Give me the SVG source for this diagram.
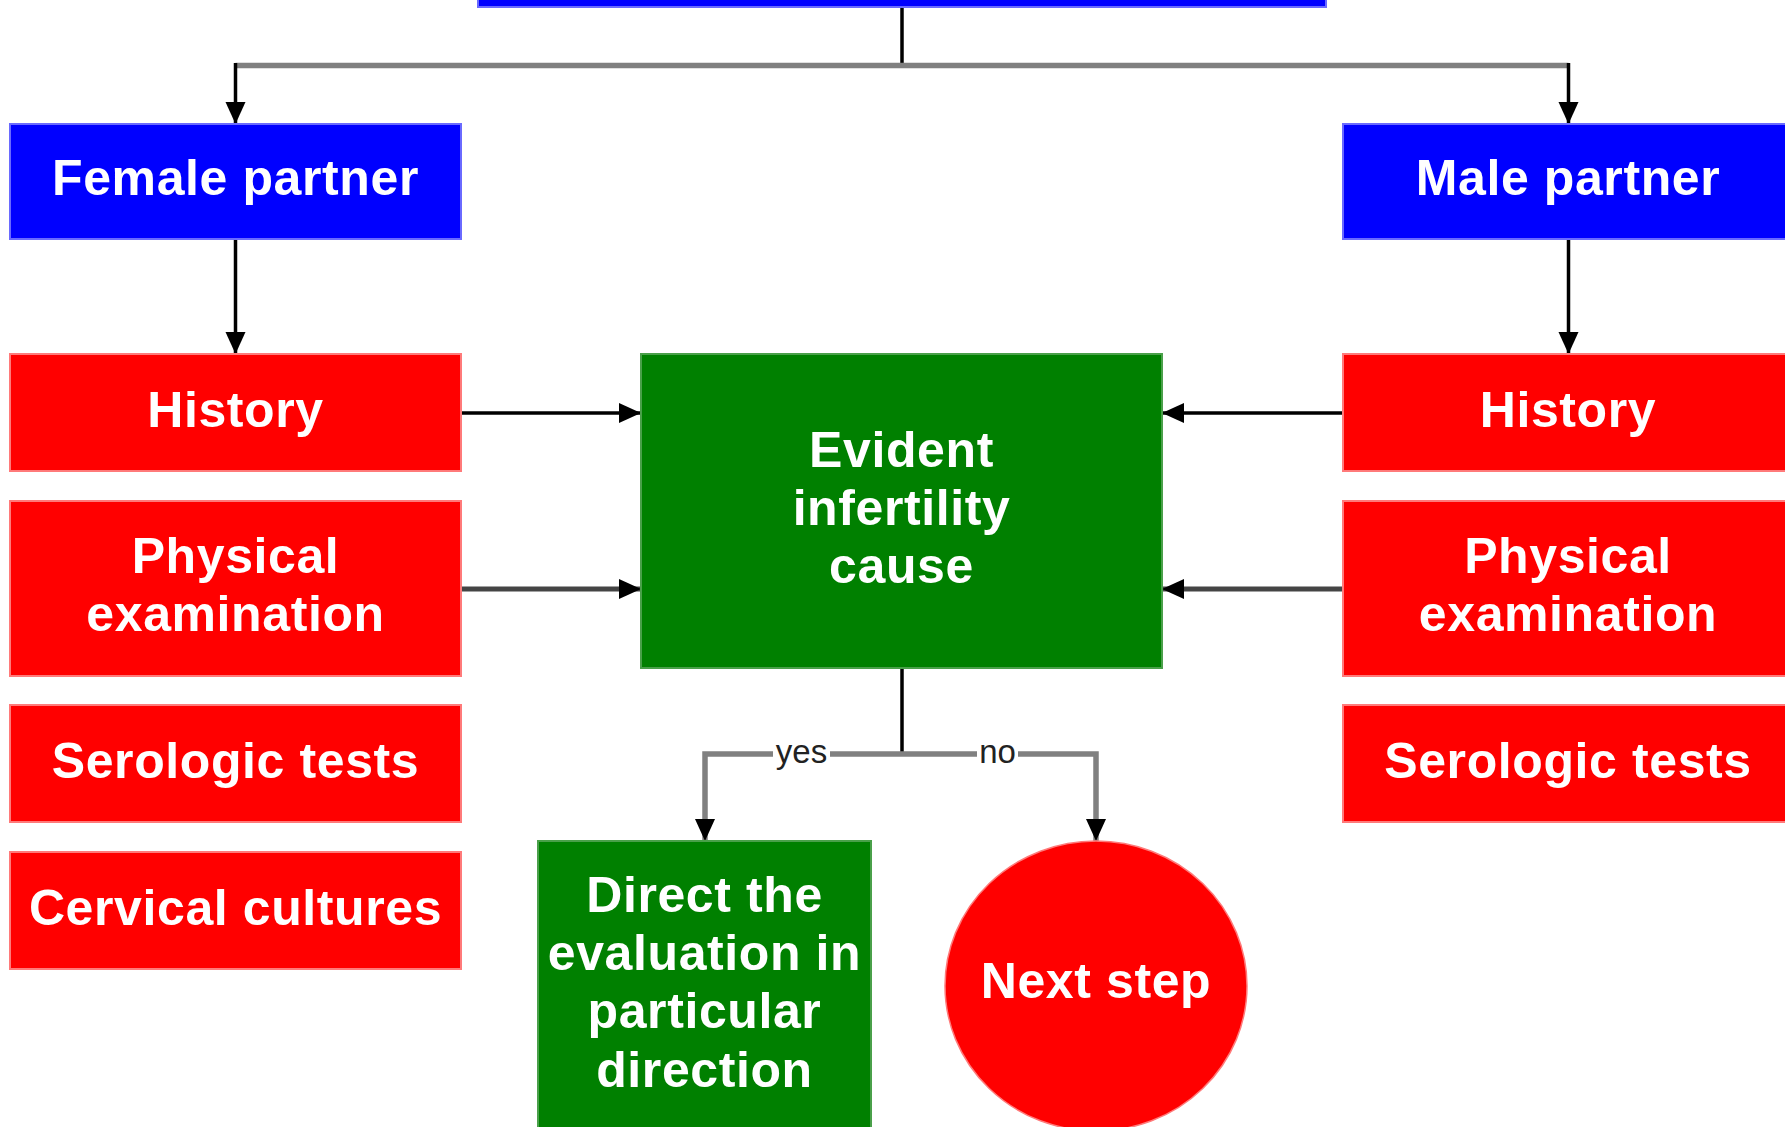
<svg xmlns="http://www.w3.org/2000/svg" width="1785" height="1127" viewBox="0 0 1785 1127">
  <defs>
    <marker id="arrow" markerUnits="userSpaceOnUse" markerWidth="23" markerHeight="21" refX="22" refY="10" orient="auto" viewBox="0 0 23 21">
      <path d="M0,0 L22,10 L0,20 Z" fill="#000"/>
    </marker>
    <style>
      .blue { fill: #0000ff; stroke: #6a6aff; stroke-width: 2; }
      .red { fill: #ff0000; stroke: #ff7a7a; stroke-width: 2; }
      .green { fill: #008000; stroke: #4aa04a; stroke-width: 2; }
      .lbl { font-family: "Liberation Sans", Arial, sans-serif; font-weight: bold; font-size: 50px; letter-spacing: 0.6px; fill: #ffffff; text-anchor: middle; }
      .edge { font-family: "Liberation Sans", Arial, sans-serif; font-size: 33px; fill: #222222; text-anchor: middle; }
      .blk { fill: none; stroke: #000; stroke-width: 3.5; }
      .gry { fill: none; stroke: #808080; stroke-width: 5.5; }
      .dk { fill: none; stroke: #444; stroke-width: 5; }
    </style>
  </defs>
  <rect width="1785" height="1127" fill="#ffffff"/>

  <g id="connectors">
    <path class="blk" d="M902,6 V66"/>
    <path class="gry" d="M235.5,65.5 H1568.5"/>
    <path class="blk" d="M235.5,63 V124" marker-end="url(#arrow)"/>
    <path class="blk" d="M1568.5,63 V124" marker-end="url(#arrow)"/>
    <path class="blk" d="M235.5,239 V354" marker-end="url(#arrow)"/>
    <path class="blk" d="M1568.5,239 V354" marker-end="url(#arrow)"/>
    <path class="blk" d="M461,413 H641" marker-end="url(#arrow)"/>
    <path class="dk" d="M461,589 H641" marker-end="url(#arrow)"/>
    <path class="blk" d="M1343,413 H1162" marker-end="url(#arrow)"/>
    <path class="dk" d="M1343,589 H1162" marker-end="url(#arrow)"/>
    <path class="blk" d="M902,668 V756"/>
    <path class="gry" d="M902,754 H705 V841" marker-end="url(#arrow)"/>
    <path class="gry" d="M902,754 H1096 V841" marker-end="url(#arrow)"/>
    <rect x="773" y="744" width="57" height="20" fill="#ffffff"/>
    <text class="edge" x="801.5" y="763">yes</text>
    <rect x="977" y="744" width="41" height="20" fill="#ffffff"/>
    <text class="edge" x="997.5" y="763">no</text>
  </g>

  <g id="top">
    <rect class="blue" x="478" y="-60" width="848" height="67"/>
  </g>

  <g id="female-partner">
    <rect class="blue" x="10" y="124" width="451" height="115"/>
    <text class="lbl" x="235.5" y="195">Female partner</text>
  </g>
  <g id="male-partner">
    <rect class="blue" x="1343" y="124" width="451" height="115"/>
    <text class="lbl" x="1568" y="195">Male partner</text>
  </g>

  <g id="female-history">
    <rect class="red" x="10" y="354" width="451" height="117"/>
    <text class="lbl" x="235.5" y="427">History</text>
  </g>
  <g id="female-physical">
    <rect class="red" x="10" y="501" width="451" height="175"/>
    <text class="lbl" x="235.5" y="573">Physical</text>
    <text class="lbl" x="235.5" y="631">examination</text>
  </g>
  <g id="female-serologic">
    <rect class="red" x="10" y="705" width="451" height="117"/>
    <text class="lbl" x="235.5" y="778">Serologic tests</text>
  </g>
  <g id="female-cervical">
    <rect class="red" x="10" y="852" width="451" height="117"/>
    <text class="lbl" x="235.5" y="925">Cervical cultures</text>
  </g>

  <g id="male-history">
    <rect class="red" x="1343" y="354" width="451" height="117"/>
    <text class="lbl" x="1568" y="427">History</text>
  </g>
  <g id="male-physical">
    <rect class="red" x="1343" y="501" width="451" height="175"/>
    <text class="lbl" x="1568" y="573">Physical</text>
    <text class="lbl" x="1568" y="631">examination</text>
  </g>
  <g id="male-serologic">
    <rect class="red" x="1343" y="705" width="451" height="117"/>
    <text class="lbl" x="1568" y="778">Serologic tests</text>
  </g>

  <g id="evident-cause">
    <rect class="green" x="641" y="354" width="521" height="314"/>
    <text class="lbl" x="901.5" y="467">Evident</text>
    <text class="lbl" x="901.5" y="525">infertility</text>
    <text class="lbl" x="901.5" y="583">cause</text>
  </g>

  <g id="direct-evaluation">
    <rect class="green" x="538" y="841" width="333" height="300"/>
    <text class="lbl" x="704.5" y="912">Direct the</text>
    <text class="lbl" x="704.5" y="970">evaluation in</text>
    <text class="lbl" x="704.5" y="1028">particular</text>
    <text class="lbl" x="704.5" y="1087">direction</text>
  </g>

  <g id="next-step">
    <ellipse cx="1096" cy="986" rx="151" ry="145" fill="#ff0000" stroke="#ff7a7a" stroke-width="1.5"/>
    <text class="lbl" x="1096" y="998">Next step</text>
  </g>
</svg>
